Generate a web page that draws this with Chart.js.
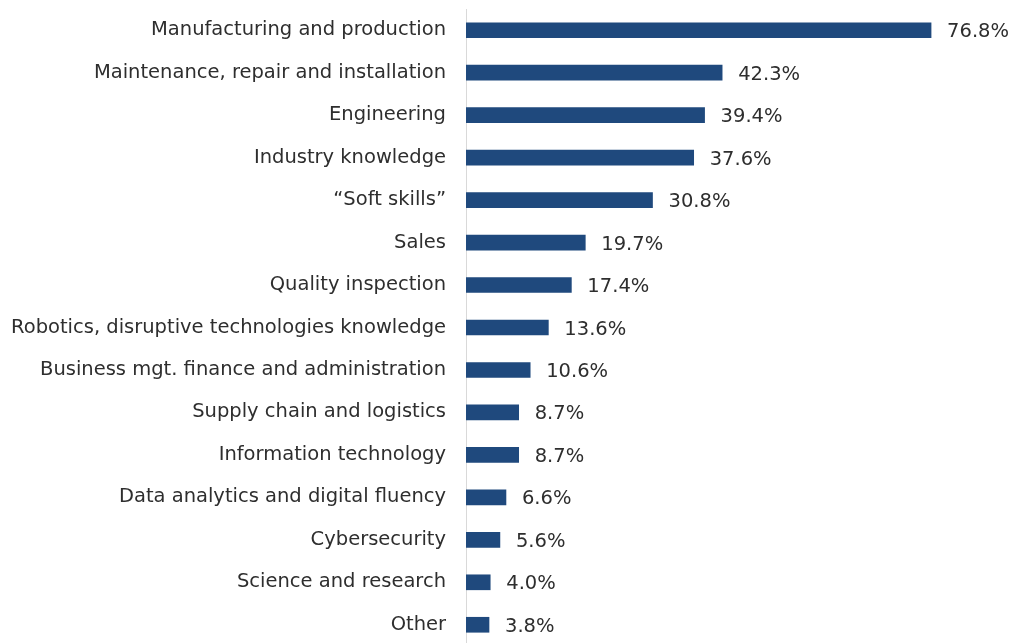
<!DOCTYPE html>
<html>
<head>
<meta charset="utf-8">
<script src="https://cdn.jsdelivr.net/npm/chart.js@4.4.1/dist/chart.umd.min.js"></script>
<style>
  html, body { margin: 0; padding: 0; background: #fff; overflow: hidden; }
  #wrap { position: absolute; left: 0; top: 0; width: 1015px; height: 646px; }
</style>
</head>
<body>
<div id="wrap"><canvas id="skills"></canvas></div>
<script>
const categories = [
  'Manufacturing and production',
  'Maintenance, repair and installation',
  'Engineering',
  'Industry knowledge',
  '\u201cSoft skills\u201d',
  'Sales',
  'Quality inspection',
  'Robotics, disruptive technologies knowledge',
  'Business mgt. finance and administration',
  'Supply chain and logistics',
  'Information technology',
  'Data analytics and digital fluency',
  'Cybersecurity',
  'Science and research',
  'Other'
];
const shares = [76.8, 42.3, 39.4, 37.6, 30.8, 19.7, 17.4, 13.6, 10.6, 8.7, 8.7, 6.6, 5.6, 4.0, 3.8];

const FONT_FAMILY = '"DejaVu Sans", sans-serif';

const valueLabels = {
  id: 'valueLabels',
  afterDatasetsDraw(chart) {
    const ctx = chart.ctx;
    const meta = chart.getDatasetMeta(0);
    ctx.save();
    ctx.font = '19.5px ' + FONT_FAMILY;
    ctx.fillStyle = '#2e2e2e';
    ctx.textAlign = 'left';
    ctx.textBaseline = 'middle';
    meta.data.forEach((bar, i) => {
      ctx.fillText(shares[i].toFixed(1) + '%', bar.x + 16, bar.y + 2);
    });
    ctx.restore();
  }
};

new Chart(document.getElementById('skills'), {
  type: 'bar',
  data: {
    labels: categories,
    datasets: [{
      data: shares,
      backgroundColor: '#1f497d',
      borderWidth: 0,
      barThickness: 15
    }]
  },
  options: {
    indexAxis: 'y',
    responsive: true,
    maintainAspectRatio: false,
    animation: false,
    layout: { padding: { top: 9, right: 4, bottom: 0, left: 0 } },
    scales: {
      x: {
        display: false,
        min: 0,
        max: 90
      },
      y: {
        offset: true,
        grid: { display: false, drawTicks: false },
        border: { display: true, color: '#d9d9d9', width: 1 },
        ticks: {
          color: '#2e2e2e',
          font: { family: FONT_FAMILY, size: 19.5 },
          padding: 20,
          autoSkip: false
        },
        afterFit(scale) {
          scale.width = 466;
          scale.paddingTop = 0;
          scale.paddingBottom = 0;
        }
      }
    },
    plugins: {
      legend: { display: false },
      tooltip: { enabled: false }
    }
  },
  plugins: [valueLabels]
});
</script>
</body>
</html>
